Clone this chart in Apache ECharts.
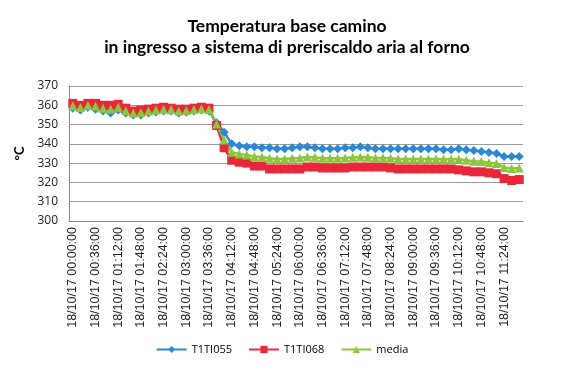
<!DOCTYPE html>
<html>
<head>
<meta charset="utf-8">
<script src="https://cdn.jsdelivr.net/npm/echarts@6/dist/echarts.min.js"></script>
<style>html,body{margin:0;padding:0;background:#fff;}#c{width:564px;height:373px;}</style>
</head>
<body>
<div id="c"></div>
<script>
var categories = [
"18/10/17 00:00:00","18/10/17 00:12:00","18/10/17 00:24:00","18/10/17 00:36:00","18/10/17 00:48:00",
"18/10/17 01:00:00","18/10/17 01:12:00","18/10/17 01:24:00","18/10/17 01:36:00","18/10/17 01:48:00",
"18/10/17 02:00:00","18/10/17 02:12:00","18/10/17 02:24:00","18/10/17 02:36:00","18/10/17 02:48:00",
"18/10/17 03:00:00","18/10/17 03:12:00","18/10/17 03:24:00","18/10/17 03:36:00","18/10/17 03:48:00",
"18/10/17 04:00:00","18/10/17 04:12:00","18/10/17 04:24:00","18/10/17 04:36:00","18/10/17 04:48:00",
"18/10/17 05:00:00","18/10/17 05:12:00","18/10/17 05:24:00","18/10/17 05:36:00","18/10/17 05:48:00",
"18/10/17 06:00:00","18/10/17 06:12:00","18/10/17 06:24:00","18/10/17 06:36:00","18/10/17 06:48:00",
"18/10/17 07:00:00","18/10/17 07:12:00","18/10/17 07:24:00","18/10/17 07:36:00","18/10/17 07:48:00",
"18/10/17 08:00:00","18/10/17 08:12:00","18/10/17 08:24:00","18/10/17 08:36:00","18/10/17 08:48:00",
"18/10/17 09:00:00","18/10/17 09:12:00","18/10/17 09:24:00","18/10/17 09:36:00","18/10/17 09:48:00",
"18/10/17 10:00:00","18/10/17 10:12:00","18/10/17 10:24:00","18/10/17 10:36:00","18/10/17 10:48:00",
"18/10/17 11:00:00","18/10/17 11:12:00","18/10/17 11:24:00","18/10/17 11:36:00","18/10/17 11:48:00"
];
var t1ti055 = [
358.5,357.5,359,358,357, 356,357.5,356,355,355, 356,356.5,357,357,356, 356.5,357,357.5,357,351,
346,340,339,338.5,338.5, 338,338,337.5,337.5,338, 338.5,338.5,338,337.5,337.5, 337.5,338,338,338.5,338,
337.5,337.5,337.5,337.5,337.5, 337.5,337.5,337.5,337.5,337, 337,337.5,337,336.5,336, 335.5,335,333.5,333.5,333.5
];
var t1ti068 = [
361,360,361,361,360, 360,360.5,358.5,357,357.5, 358,358.5,359,358.5,358, 358,358.5,359,358.5,349.5,
338,331.5,330.5,330,328.5, 328.5,327,327,327,327, 327,328,328,327.5,327.5, 327.5,327.5,328,328,328,
328,328,327.5,327,327, 327,327,327,327,327, 327,326.5,326,325.5,325.5, 325,324.5,322,321,321.5
];
var media = [
359.8,358.8,360,359.5,358.5, 358,359,357.2,356,356.2, 357,357.5,358,357.8,357, 357.3,357.8,358.2,357.8,350.3,
342,335.7,334.8,334.2,333.5, 333.2,332.5,332.2,332.2,332.5, 332.7,333.2,333,332.5,332.5, 332.5,332.7,333,333.2,333,
332.7,332.7,332.5,332.2,332.2, 332.2,332.2,332.2,332.2,332, 332,332,331.5,331,330.8, 330.2,329.8,327.8,327.2,327.5
];
var yTicks = {min: 300, max: 370, interval: 10};
var seriesNames = ["T1TI055", "T1TI068", "media"];
var seriesColors = ["#2A89D6", "#E8283A", "#8CC63F"];

var chart = echarts.init(document.getElementById('c'), null, {renderer: 'canvas'});
function mk(name, data, color, symbol, size) {
  return {
    name: name, type: 'line', data: data, symbol: symbol, symbolSize: size,
    showAllSymbol: true,
    lineStyle: {color: color, width: 2.5},
    itemStyle: {color: color, borderWidth: 0},
    animation: false
  };
}
chart.setOption({
  animation: false,
  title: {
    text: 'Temperatura base camino\nin ingresso a sistema di preriscaldo aria al forno',
    left: 282, top: 11, textAlign: 'center',
    textStyle: {fontFamily: 'Lato', fontWeight: 'bold', fontSize: 17.5, lineHeight: 21, color: '#000'}
  },
  legend: {
    bottom: 13, left: 'center', itemWidth: 30, itemHeight: 9, itemGap: 16,
    textStyle: {fontFamily: 'Open Sans', fontSize: 11, color: '#000'},
    data: seriesNames
  },
  grid: {left: 69, right: 41, top: 86, bottom: 152, containLabel: false},
  xAxis: {
    type: 'category', data: categories, boundaryGap: true,
    axisLine: {lineStyle: {color: '#888', width: 1}},
    axisTick: {show: false},
    axisLabel: {interval: 2, rotate: 90, margin: 6, fontFamily: 'Liberation Sans', fontSize: 12.5, color: '#222'},
    splitLine: {show: false}
  },
  yAxis: {
    type: 'value', min: yTicks.min, max: yTicks.max, interval: yTicks.interval,
    name: '°C', nameLocation: 'middle', nameGap: 29, nameRotate: 90,
    nameTextStyle: {fontFamily: 'Lato', fontWeight: 'bold', fontSize: 13, color: '#000'},
    axisLine: {show: true, lineStyle: {color: '#888', width: 1}},
    axisTick: {show: false},
    axisLabel: {margin: 11, fontFamily: 'Open Sans', fontSize: 12, color: '#222'},
    splitLine: {lineStyle: {color: '#9a9a9a', width: 1}}
  },
  series: [
    mk(seriesNames[0], t1ti055, seriesColors[0], 'diamond', 9),
    mk(seriesNames[1], t1ti068, seriesColors[1], 'rect', 9),
    mk(seriesNames[2], media, seriesColors[2], 'triangle', 9)
  ]
});
</script>
</body>
</html>
